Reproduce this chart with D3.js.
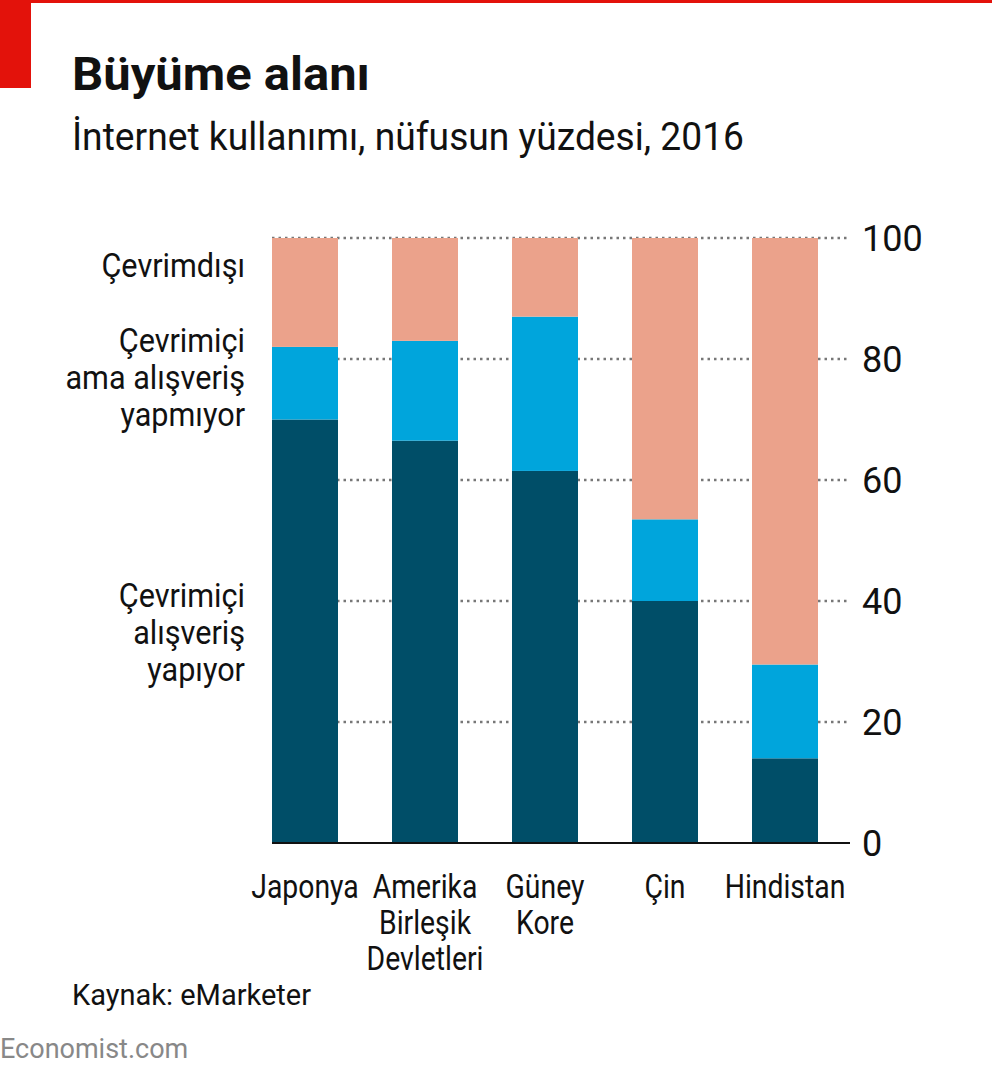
<!DOCTYPE html><html><head><meta charset="utf-8"><script src="https://cdn.jsdelivr.net/npm/d3@7"></script>
<style>body{margin:0;background:#fff}text{font-family:Roboto,"Open Sans",sans-serif}</style></head><body>
<svg id="c" width="992" height="1072"></svg>
<script>
const categories=[["Japonya"],["Amerika","Birleşik","Devletleri"],["Güney","Kore"],["Çin"],["Hindistan"]];
const shopping=[70,66.5,61.5,40,14];
const onlineNoShop=[12,16.5,25.5,13.5,15.5];
const offline=[18,17,13,46.5,70.5];
const ticks=[0,20,40,60,80,100];
const colors=["#004e68","#00a5dc","#eba28b"];
const svg=d3.select("#c");
svg.append("rect").attr("x",0).attr("y",0).attr("width",992).attr("height",3).attr("fill","#e3120b");
svg.append("rect").attr("x",0).attr("y",0).attr("width",31).attr("height",88).attr("fill","#e3120b");
svg.append("text").attr("x",72).attr("y",90).attr("font-size",46).attr("font-weight","bold").attr("fill","#111").attr("textLength",298).attr("lengthAdjust","spacingAndGlyphs").text("Büyüme alanı");
svg.append("text").attr("x",72).attr("y",150).attr("font-size",38).attr("fill","#111").attr("textLength",672).attr("lengthAdjust","spacingAndGlyphs").text("İnternet kullanımı, nüfusun yüzdesi, 2016");
const y=d3.scaleLinear().domain([0,100]).range([843,238]);
const x=d3.scaleBand().domain(d3.range(5)).range([242,848]).paddingInner(0.45).paddingOuter(0.25);
ticks.forEach(t=>{
 if(t>0)svg.append("line").attr("x1",272).attr("x2",850).attr("y1",y(t)).attr("y2",y(t)).attr("stroke","#777").attr("stroke-width",2.5).attr("stroke-dasharray","2.5,4");
 svg.append("text").attr("x",862).attr("y",y(t)+13).attr("font-size",36).attr("fill","#111").text(t);
});
const series=[shopping,onlineNoShop,offline];
categories.forEach((c,i)=>{
 let base=0;
 series.forEach((s,k)=>{
  svg.append("rect").attr("x",x(i)).attr("width",x.bandwidth()).attr("y",y(base+s[i])).attr("height",y(base)-y(base+s[i])).attr("fill",colors[k]);
  base+=s[i];
 });
 const cx=x(i)+x.bandwidth()/2;
 c.forEach((l,j)=>svg.append("text").attr("transform",`translate(${cx},${898+j*36}) scale(0.86,1)`).attr("text-anchor","middle").attr("font-size",33).attr("fill","#111").text(l));
});
svg.append("line").attr("x1",272).attr("x2",850).attr("y1",843).attr("y2",843).attr("stroke","#111").attr("stroke-width",2);
const leg=[[["Çevrimdışı"],277],[["Çevrimiçi","ama alışveriş","yapmıyor"],352],[["Çevrimiçi","alışveriş","yapıyor"],607]];
leg.forEach(([ls,yy])=>ls.forEach((l,j)=>svg.append("text").attr("transform",`translate(245,${yy+j*37}) scale(0.9,1)`).attr("text-anchor","end").attr("font-size",34).attr("fill","#111").text(l)));
svg.append("text").attr("x",72).attr("y",1005).attr("font-size",29).attr("fill","#111").text("Kaynak: eMarketer");
svg.append("text").attr("x",0).attr("y",1058).attr("font-size",27).attr("fill","#888").text("Economist.com");
</script></body></html>
